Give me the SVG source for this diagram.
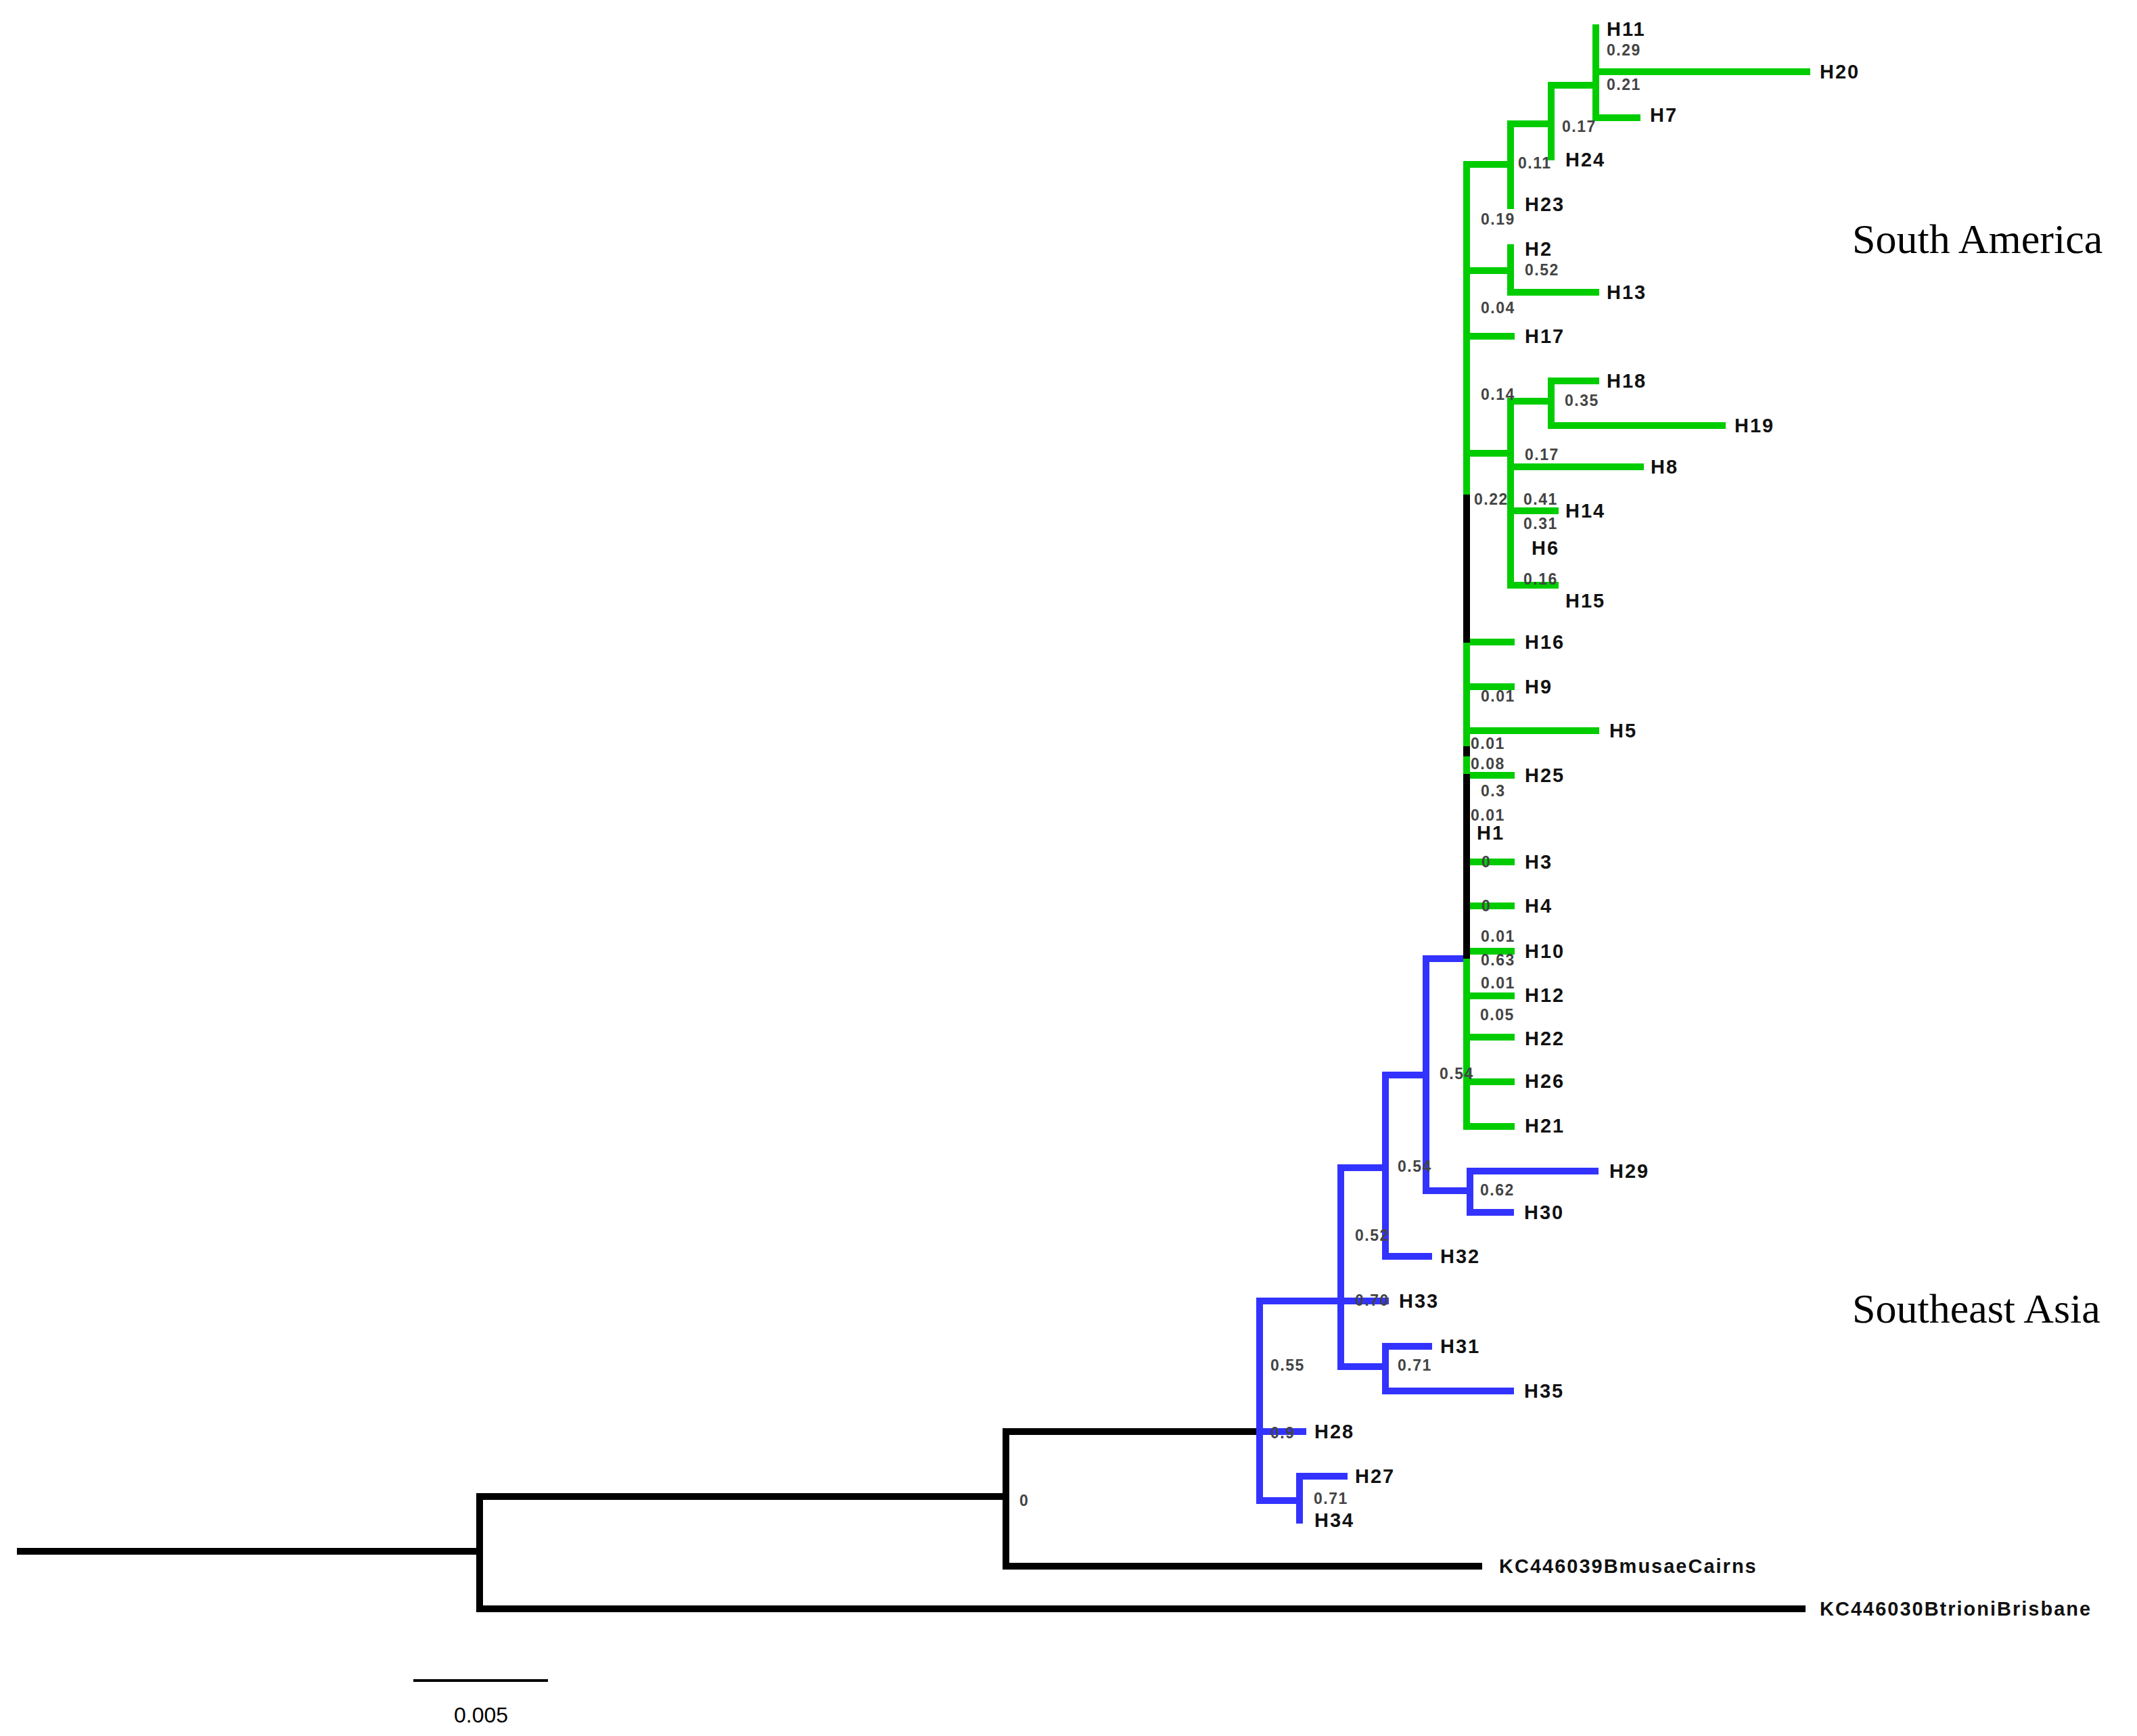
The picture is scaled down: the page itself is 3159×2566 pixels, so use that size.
<svg xmlns="http://www.w3.org/2000/svg" width="3159" height="2566" viewBox="0 0 3159 2566">
<style>
.g{stroke:#00CC00;stroke-width:10;fill:none;stroke-linecap:square}
.b{stroke:#3333FF;stroke-width:10;fill:none;stroke-linecap:square}
.k{stroke:#000;stroke-width:10;fill:none;stroke-linecap:square}
.t{font-family:"Liberation Sans",Arial,sans-serif;font-weight:bold;font-size:29px;letter-spacing:2px;fill:#111;dominant-baseline:central}
.s{font-family:"Liberation Sans",Arial,sans-serif;font-weight:bold;font-size:23px;letter-spacing:1.5px;fill:#444;dominant-baseline:central}
.r{font-family:"Liberation Serif","Times New Roman",serif;font-size:62px;fill:#000;dominant-baseline:central}
.sc{font-family:"Liberation Sans",Arial,sans-serif;font-size:32px;fill:#000}
</style>
<rect width="3159" height="2566" fill="#fff"/>
<g id="connectors">
<path class="k" d="M30 2293H709M709 2212V2378M709 2212H1487M709 2378H2664M1487 2116V2315M1487 2116H1862M1487 2315H2186"/>
<path class="b" d="M1862 1923V2218M1862 2116H1926M1862 2218H1921M1921 2182V2247M1921 2182H1987M1862 1923H2048M1982 1726V2020M1982 1726H2048M1982 2020H2048M2048 1990V2056M2048 1990H2112M2048 2056H2233M2048 1589V1857M2048 1589H2108M2048 1857H2112M2108 1417V1760M2108 1417H2168M2108 1760H2173M2173 1731V1792M2173 1731H2358M2173 1792H2233"/>
<path class="g" d="M2168 243V736M2168 945V1108M2168 1113V1149M2168 1412V1665M2168 243H2233M2233 183V304M2233 183H2293M2293 126V232M2293 126H2359M2359 41V174M2359 106H2671M2359 174H2420M2168 400H2233M2233 366V432M2233 432H2359M2168 497H2234M2168 670H2233M2233 593V865M2233 593H2293M2293 563V629M2293 563H2359M2293 629H2546M2233 690H2425M2233 755H2299M2233 865H2299M2168 949H2234M2168 1015H2234M2168 1080H2359M2168 1146H2234M2172 1274H2234M2172 1339H2234M2168 1406H2234M2168 1472H2234M2168 1533H2234M2168 1599H2234M2168 1665H2234"/>
<path class="k" d="M2168 736V945M2168 1108V1113M2168 1149V1412"/>
<path class="k" d="M611 2484H810" style="stroke-width:4;stroke-linecap:butt"/>
</g>
<g id="tips">
<text class="t" x="2375" y="43">H11</text>
<text class="t" x="2690" y="106">H20</text>
<text class="t" x="2439" y="170">H7</text>
<text class="t" x="2314" y="236">H24</text>
<text class="t" x="2254" y="302">H23</text>
<text class="t" x="2254" y="368">H2</text>
<text class="t" x="2375" y="432">H13</text>
<text class="t" x="2254" y="497">H17</text>
<text class="t" x="2375" y="563">H18</text>
<text class="t" x="2564" y="629">H19</text>
<text class="t" x="2440" y="690">H8</text>
<text class="t" x="2314" y="755">H14</text>
<text class="t" x="2264" y="810">H6</text>
<text class="t" x="2314" y="888">H15</text>
<text class="t" x="2254" y="949">H16</text>
<text class="t" x="2254" y="1015">H9</text>
<text class="t" x="2379" y="1080">H5</text>
<text class="t" x="2254" y="1146">H25</text>
<text class="t" x="2183" y="1231">H1</text>
<text class="t" x="2254" y="1274">H3</text>
<text class="t" x="2254" y="1339">H4</text>
<text class="t" x="2254" y="1406">H10</text>
<text class="t" x="2254" y="1471">H12</text>
<text class="t" x="2254" y="1535">H22</text>
<text class="t" x="2254" y="1598">H26</text>
<text class="t" x="2254" y="1664">H21</text>
<text class="t" x="2379" y="1731">H29</text>
<text class="t" x="2253" y="1792">H30</text>
<text class="t" x="2129" y="1857">H32</text>
<text class="t" x="2068" y="1923">H33</text>
<text class="t" x="2129" y="1990">H31</text>
<text class="t" x="2253" y="2056">H35</text>
<text class="t" x="1943" y="2116">H28</text>
<text class="t" x="2003" y="2182">H27</text>
<text class="t" x="1943" y="2247">H34</text>
<text class="t" x="2216" y="2315">KC446039BmusaeCairns</text>
<text class="t" x="2690" y="2378">KC446030BtrioniBrisbane</text>
</g>
<g id="supports">
<text class="s" x="2375" y="74">0.29</text>
<text class="s" x="2375" y="125">0.21</text>
<text class="s" x="2309" y="187">0.17</text>
<text class="s" x="2244" y="241">0.11</text>
<text class="s" x="2189" y="324">0.19</text>
<text class="s" x="2254" y="399">0.52</text>
<text class="s" x="2189" y="455">0.04</text>
<text class="s" x="2189" y="583">0.14</text>
<text class="s" x="2313" y="592">0.35</text>
<text class="s" x="2254" y="672">0.17</text>
<text class="s" x="2179" y="738">0.22</text>
<text class="s" x="2252" y="738">0.41</text>
<text class="s" x="2252" y="774">0.31</text>
<text class="s" x="2252" y="856">0.16</text>
<text class="s" x="2189" y="1029">0.01</text>
<text class="s" x="2174" y="1099">0.01</text>
<text class="s" x="2174" y="1129">0.08</text>
<text class="s" x="2189" y="1169">0.3</text>
<text class="s" x="2174" y="1205">0.01</text>
<text class="s" x="2190" y="1274">0</text>
<text class="s" x="2190" y="1339">0</text>
<text class="s" x="2189" y="1384">0.01</text>
<text class="s" x="2189" y="1419">0.63</text>
<text class="s" x="2189" y="1453">0.01</text>
<text class="s" x="2188" y="1500">0.05</text>
<text class="s" x="2128" y="1587">0.54</text>
<text class="s" x="2066" y="1724">0.54</text>
<text class="s" x="2188" y="1759">0.62</text>
<text class="s" x="2003" y="1826">0.52</text>
<text class="s" x="2003" y="1922">0.70</text>
<text class="s" x="2066" y="2018">0.71</text>
<text class="s" x="1878" y="2018">0.55</text>
<text class="s" x="1878" y="2118">0.9</text>
<text class="s" x="1942" y="2215">0.71</text>
<text class="s" x="1507" y="2218">0</text>
</g>
<g id="regions">
<text class="r" x="2738" y="353">South America</text>
<text class="r" x="2738" y="1934">Southeast Asia</text>
</g>
<g id="scale">
<text class="sc" x="711" y="2546" text-anchor="middle">0.005</text>
</g>
</svg>
